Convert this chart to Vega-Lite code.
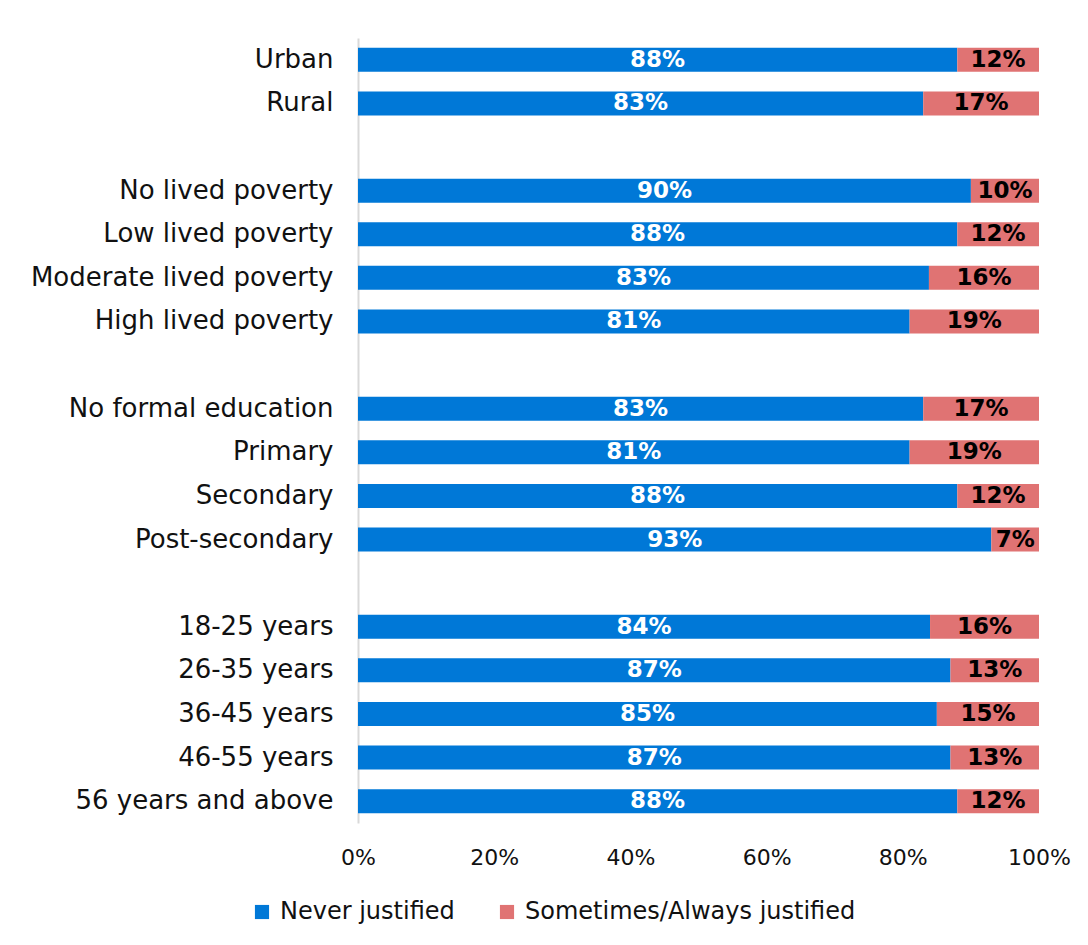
{
  "$schema": "https://vega.github.io/schema/vega-lite/v6.json",
  "autosize": {"type": "none"},
  "padding": {"left": 358, "top": 38, "right": 49, "bottom": 122},
  "width": 681,
  "height": 785,
  "background": "white",
  "config": {
    "view": {"stroke": null},
    "font": "DejaVu Sans",
    "axis": {"labelFont": "DejaVu Sans", "labelColor": "#111111"},
    "legend": {"labelFont": "DejaVu Sans"}
  },
  "data": {
    "values": [
      {"group": "Urban", "resp": "Never justified", "v": 88},
      {"group": "Urban", "resp": "Sometimes/Always justified", "v": 12},
      {"group": "Rural", "resp": "Never justified", "v": 83},
      {"group": "Rural", "resp": "Sometimes/Always justified", "v": 17},
      {"group": "No lived poverty", "resp": "Never justified", "v": 90},
      {"group": "No lived poverty", "resp": "Sometimes/Always justified", "v": 10},
      {"group": "Low lived poverty", "resp": "Never justified", "v": 88},
      {"group": "Low lived poverty", "resp": "Sometimes/Always justified", "v": 12},
      {"group": "Moderate lived poverty", "resp": "Never justified", "v": 83},
      {"group": "Moderate lived poverty", "resp": "Sometimes/Always justified", "v": 16},
      {"group": "High lived poverty", "resp": "Never justified", "v": 81},
      {"group": "High lived poverty", "resp": "Sometimes/Always justified", "v": 19},
      {"group": "No formal education", "resp": "Never justified", "v": 83},
      {"group": "No formal education", "resp": "Sometimes/Always justified", "v": 17},
      {"group": "Primary", "resp": "Never justified", "v": 81},
      {"group": "Primary", "resp": "Sometimes/Always justified", "v": 19},
      {"group": "Secondary", "resp": "Never justified", "v": 88},
      {"group": "Secondary", "resp": "Sometimes/Always justified", "v": 12},
      {"group": "Post-secondary", "resp": "Never justified", "v": 93},
      {"group": "Post-secondary", "resp": "Sometimes/Always justified", "v": 7},
      {"group": "18-25 years", "resp": "Never justified", "v": 84},
      {"group": "18-25 years", "resp": "Sometimes/Always justified", "v": 16},
      {"group": "26-35 years", "resp": "Never justified", "v": 87},
      {"group": "26-35 years", "resp": "Sometimes/Always justified", "v": 13},
      {"group": "36-45 years", "resp": "Never justified", "v": 85},
      {"group": "36-45 years", "resp": "Sometimes/Always justified", "v": 15},
      {"group": "46-55 years", "resp": "Never justified", "v": 87},
      {"group": "46-55 years", "resp": "Sometimes/Always justified", "v": 13},
      {"group": "56 years and above", "resp": "Never justified", "v": 88},
      {"group": "56 years and above", "resp": "Sometimes/Always justified", "v": 12}
    ]
  },
  "transform": [
    {"calculate": "datum.resp === 'Never justified' ? 0 : 1", "as": "ord"},
    {"stack": "v", "groupby": ["group"], "sort": [{"field": "ord"}], "offset": "normalize", "as": ["v0", "v1"]},
    {"calculate": "(datum.v0 + datum.v1) / 2", "as": "mid"},
    {"calculate": "datum.v + '%'", "as": "lab"}
  ],
  "encoding": {
    "y": {
      "field": "group",
      "type": "nominal",
      "title": null,
      "scale": {
        "domain": ["Urban", "Rural", "gap1", "No lived poverty", "Low lived poverty", "Moderate lived poverty", "High lived poverty", "gap2", "No formal education", "Primary", "Secondary", "Post-secondary", "gap3", "18-25 years", "26-35 years", "36-45 years", "46-55 years", "56 years and above"],
        "paddingInner": 0.45,
        "paddingOuter": 0.225
      },
      "axis": {
        "labelExpr": "indexof(datum.value, 'gap') === 0 ? '' : datum.value",
        "ticks": false,
        "labelPadding": 25,
        "labelFontSize": 26,
        "labelLimit": 400,
        "domainColor": "#D9D9D9",
        "domainWidth": 2,
        "grid": false
      }
    }
  },
  "layer": [
    {
      "mark": {"type": "bar"},
      "encoding": {
        "x": {
          "field": "v0",
          "type": "quantitative",
          "scale": {"domain": [0, 1]},
          "title": null,
          "axis": {
            "values": [0, 0.2, 0.4, 0.6, 0.8, 1],
            "format": ".0%",
            "grid": false,
            "domain": false,
            "ticks": false,
            "labelPadding": 24,
            "labelFontSize": 22,
            "labelFlush": false
          }
        },
        "x2": {"field": "v1"},
        "color": {
          "field": "resp",
          "type": "nominal",
          "title": null,
          "scale": {"domain": ["Never justified", "Sometimes/Always justified"], "range": ["#0078D7", "#E07373"]},
          "legend": {
            "orient": "none",
            "legendX": -108,
            "legendY": 862,
            "direction": "horizontal",
            "symbolType": "square",
            "symbolSize": 200,
            "symbolStrokeWidth": 0,
            "labelFontSize": 24,
            "labelColor": "#111111",
            "labelLimit": 500,
            "columnPadding": 40,
            "labelOffset": 6
          }
        }
      }
    },
    {
      "mark": {"type": "text", "fontWeight": "bold", "fontSize": 23, "baseline": "middle", "align": "center"},
      "encoding": {
        "x": {"field": "mid", "type": "quantitative"},
        "text": {"field": "lab"},
        "color": {
          "condition": {"test": "datum.resp === 'Never justified'", "value": "white"},
          "value": "black"
        }
      }
    }
  ]
}
